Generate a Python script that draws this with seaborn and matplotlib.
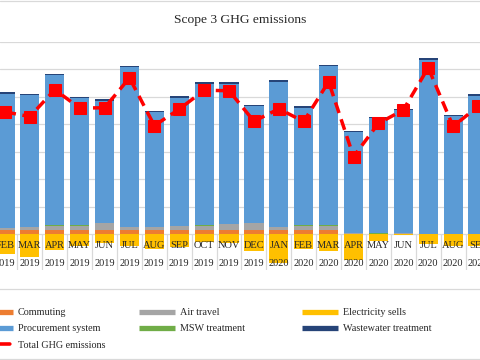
import numpy as np
import matplotlib
matplotlib.use('Agg')
import matplotlib.pyplot as plt
from matplotlib.lines import Line2D
from matplotlib.patches import Rectangle
import seaborn as sns

# Monthly scope 3 emissions (visible window: Feb 2019 - Sep 2020)
months = ['FEB', 'MAR', 'APR', 'MAY', 'JUN', 'JUL', 'AUG', 'SEP', 'OCT', 'NOV', 'DEC',
          'JAN', 'FEB', 'MAR', 'APR', 'MAY', 'JUN', 'JUL', 'AUG', 'SEP']
years = ['2019'] * 11 + ['2020'] * 9

commuting = [0.16, 0.16, 0.16, 0.16, 0.16, 0.16, 0.16, 0.16, 0.16, 0.16, 0.16,
             0.16, 0.16, 0.16, 0.00, 0.02, 0.02, 0.00, 0.00, 0.00]
air_travel = [0.07, 0.10, 0.15, 0.15, 0.25, 0.10, 0.10, 0.12, 0.15, 0.22, 0.25,
              0.10, 0.15, 0.15, 0.05, 0.00, 0.02, 0.00, 0.00, 0.00]
msw = [0.003] * 20
procurement = [4.89, 4.80, 5.47, 4.64, 4.45, 5.82, 4.18, 4.69, 5.17, 5.10, 4.24,
               5.29, 4.28, 5.80, 3.66, 4.20, 4.47, 6.35, 4.29, 5.04]
wastewater = [0.06] * 20
electricity = [-0.73, -0.84, -0.58, -0.42, -0.32, -0.45, -0.55, -0.48, -0.30, -0.32, -0.60,
               -1.05, -0.55, -0.62, -0.95, -0.25, -0.05, -0.35, -0.43, -0.45]

colors = {
    'Commuting': '#ED7D31',
    'Air travel': '#A5A5A5',
    'Electricity sells': '#FFC000',
    'Procurement system': '#5B9BD5',
    'MSW treatment': '#70AD47',
    'Wastewater treatment': '#264478',
}

sns.set_style('white')
plt.rcParams['font.family'] = ['Liberation Serif', 'DejaVu Serif']

n = len(months)
pos = np.arange(n)
labels = [f'{m}\n{y}' for m, y in zip(months, years)]

b1 = np.array(commuting)
b2 = b1 + np.array(air_travel)
b3 = b2 + np.array(msw)
b4 = b3 + np.array(procurement)
total = b4 + np.array(wastewater) + np.array(electricity)

fig = plt.figure(figsize=(4.8, 3.6), dpi=100)
ax = fig.add_axes([0, 0.25, 1, 0.6333])

bar_kw = dict(width=0.77, saturation=1, errorbar=None, ax=ax, zorder=2,
              linewidth=0, edgecolor='none')
sns.barplot(x=labels, y=commuting, color=colors['Commuting'], **bar_kw)
sns.barplot(x=labels, y=air_travel, bottom=b1, color=colors['Air travel'], **bar_kw)
sns.barplot(x=labels, y=msw, bottom=b2, color=colors['MSW treatment'], **bar_kw)
sns.barplot(x=labels, y=procurement, bottom=b3, color=colors['Procurement system'], **bar_kw)
sns.barplot(x=labels, y=wastewater, bottom=b4, color=colors['Wastewater treatment'], **bar_kw)
sns.barplot(x=labels, y=electricity, color=colors['Electricity sells'], **bar_kw)

sns.lineplot(x=pos, y=total, color='#FF0000', linewidth=2.5, linestyle=(0, (3.2, 1.9)),
             marker='s', markersize=9.3, markeredgecolor='#FF0000', ax=ax, zorder=4)

ymin = -1.31
ax.set_ylim(ymin, 7)
ax.set_xlim(-0.2, 19.08)
ax.set_yticks(range(0, 8))
ax.yaxis.grid(True, color='#d9d9d9', linewidth=0.9)
ax.set_axisbelow(True)
ax.tick_params(left=False, labelleft=False, bottom=False, labelbottom=False)
ax.set_xticks([])
ax.set_xlabel('')
for s in ax.spines.values():
    s.set_visible(False)

# category separators and two-level labels
ax.vlines(np.arange(-1, n) + 0.5, ymin, 0, color='#d9d9d9', linewidth=0.9, zorder=1)
for i, (m, y) in enumerate(zip(months, years)):
    ax.text(i, -0.40, m, ha='center', va='center', fontsize=7.5, zorder=5)
    ax.text(i, -1.09, y, ha='center', va='center', fontsize=7.5, zorder=5)

fig.text(0.5, 1 - 20 / 360, 'Scope 3 GHG emissions', ha='center', va='center', fontsize=9.7)

# legend in three columns
def h(c):
    return Line2D([], [], color=c, linewidth=3.8, solid_capstyle='butt')

total_h = Line2D([], [], color='#FF0000', linewidth=2.6, linestyle=(0, (3, 1.8)),
                 dash_capstyle='round')
cols = [
    ([h(colors['Commuting']), h(colors['Procurement system']), total_h],
     ['Commuting', 'Procurement system', 'Total GHG emissions'], -23),
    ([h(colors['Air travel']), h(colors['MSW treatment'])],
     ['Air travel', 'MSW treatment'], 139),
    ([h(colors['Electricity sells']), h(colors['Wastewater treatment'])],
     ['Electricity sells', 'Wastewater treatment'], 302),
]
for handles, names, x0 in cols:
    fig.legend(handles, names, loc='upper left', bbox_to_anchor=(x0 / 480, 1 - 308 / 360),
               frameon=False, fontsize=7.3, borderpad=0, borderaxespad=0,
               handlelength=3.55, handletextpad=0.45, labelspacing=0.72)

fig.add_artist(Rectangle((-0.05, 1 - 359 / 360), 1.1, 70 / 360, transform=fig.transFigure,
                         fill=False, edgecolor='#d9d9d9', linewidth=0.9))
fig.add_artist(Line2D([0, 1], [1 - 1 / 360, 1 - 1 / 360], transform=fig.transFigure,
                      color='#d9d9d9', linewidth=0.9))

fig.savefig('out.png', dpi=100)
